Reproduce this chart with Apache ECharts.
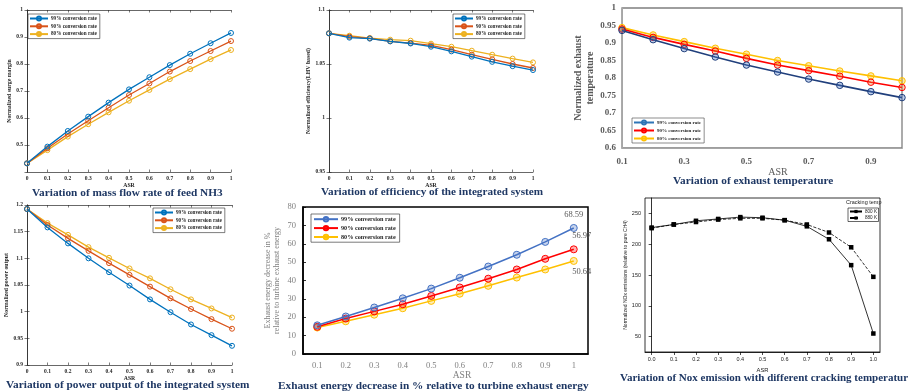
<!DOCTYPE html>
<html>
<head>
<meta charset="utf-8">
<script src="https://cdn.jsdelivr.net/npm/echarts/dist/echarts.min.js"></script>
<style>
  html, body { margin: 0; padding: 0; background: #fff; }
  #main { width: 908px; height: 391px; }
</style>
</head>
<body>
<div id="main"></div>
<script>
// ASR values
const asrFull = [0, 0.1, 0.2, 0.3, 0.4, 0.5, 0.6, 0.7, 0.8, 0.9, 1];
const asrFrom01 = ['0.1', '0.2', '0.3', '0.4', '0.5', '0.6', '0.7', '0.8', '0.9', '1'];
const rateNames = ['99% conversion rate', '90% conversion rate', '80% conversion rate'];

// mass flow rate of feed NH3 (normalized surge margin)
const surge99 = [0.432, 0.494, 0.552, 0.605, 0.657, 0.706, 0.751, 0.796, 0.838, 0.877, 0.915];
const surge90 = [0.432, 0.488, 0.541, 0.590, 0.638, 0.685, 0.728, 0.772, 0.811, 0.848, 0.885];
const surge80 = [0.432, 0.481, 0.531, 0.577, 0.621, 0.664, 0.704, 0.744, 0.781, 0.818, 0.852];

// efficiency of the integrated system
const eff99 = [1.0784, 1.0744, 1.0735, 1.0710, 1.0690, 1.0660, 1.0617, 1.0568, 1.0520, 1.0480, 1.0444];
const eff90 = [1.0784, 1.0753, 1.0738, 1.0710, 1.0694, 1.0673, 1.0633, 1.0586, 1.0543, 1.0500, 1.0463];
const eff80 = [1.0784, 1.0762, 1.0740, 1.0725, 1.0716, 1.0688, 1.0660, 1.0623, 1.0586, 1.0550, 1.0515];

// power output
const power99 = [1.1925, 1.158, 1.128, 1.100, 1.074, 1.049, 1.023, 0.999, 0.976, 0.956, 0.936];
const power90 = [1.1925, 1.1625, 1.1375, 1.114, 1.091, 1.069, 1.047, 1.025, 1.005, 0.986, 0.968];
const power80 = [1.1925, 1.166, 1.144, 1.121, 1.101, 1.081, 1.0625, 1.042, 1.023, 1.006, 0.989];

// exhaust temperature (ASR 0.1 .. 1)
const exhTemp99 = [0.936, 0.9095, 0.884, 0.860, 0.837, 0.817, 0.797, 0.779, 0.761, 0.744];
const exhTemp90 = [0.940, 0.916, 0.896, 0.877, 0.856, 0.837, 0.821, 0.805, 0.788, 0.773];
const exhTemp80 = [0.944, 0.923, 0.904, 0.885, 0.868, 0.850, 0.835, 0.820, 0.806, 0.792];

// exhaust energy decrease in % (ASR 0.1 .. 1)
const exhEnergy99 = [15.6, 20.4, 25.3, 30.3, 35.6, 41.5, 47.6, 54.0, 61.0, 68.59];
const exhEnergy90 = [14.8, 19.3, 23.2, 27.1, 31.6, 36.2, 41.0, 46.0, 51.8, 56.97];
const exhEnergy80 = [14.4, 17.8, 21.4, 24.9, 28.9, 32.8, 37.1, 41.6, 46.0, 50.64];

// NOx emission vs cracking temperature
const nox800 = [227, 232, 238, 241, 244, 243, 239, 229, 208, 166, 55];
const nox880 = [226, 232, 236, 240, 242, 242, 239, 232, 219, 195, 147];

const SERIF = '"Liberation Serif", "Times New Roman", serif';
const SANS = '"Liberation Sans", Arial, sans-serif';
const NAVY = '#1f3864';
const INK = '#262626';
const MATLAB = ['#0072BD', '#D95319', '#EDB120'];

const grid = [], xAxis = [], yAxis = [], series = [], legend = [], title = [];

function fmt(v) { return String(+v.toFixed(2)); }

// MATLAB style panel: boxed axes, ticks inside on all four sides
function matlabPanel(p) {
  const g = grid.length;
  grid.push({ left: p.left, top: p.top, width: p.width, height: p.height });
  const tick = { show: true, inside: true, length: 2.5, lineStyle: { color: INK, width: 0.6 } };
  const line = { show: true, lineStyle: { color: INK, width: 0.7 } };
  const lab = { fontFamily: SERIF, fontWeight: 'bold', fontSize: 5.5, color: INK, margin: 4, formatter: fmt };
  const nameStyle = { fontFamily: SERIF, fontWeight: 'bold', fontSize: 5.8, color: INK };
  const xb = xAxis.length;
  xAxis.push({
    gridIndex: g, type: 'value', min: 0, max: 1, interval: 0.1,
    axisLine: line, axisTick: tick, axisLabel: lab, splitLine: { show: false },
    name: 'ASR', nameLocation: 'middle', nameGap: p.xNameGap, nameTextStyle: nameStyle
  });
  xAxis.push({
    gridIndex: g, type: 'value', position: 'top', min: 0, max: 1, interval: 0.1,
    axisLine: line, axisTick: tick, axisLabel: { show: false }, splitLine: { show: false }
  });
  const yb = yAxis.length;
  yAxis.push({
    gridIndex: g, type: 'value', min: p.yMin, max: p.yMax, interval: p.yStep,
    axisLine: line, axisTick: tick, axisLabel: Object.assign({ showMinLabel: p.showMin }, lab),
    splitLine: { show: false },
    name: p.yName, nameLocation: 'middle', nameRotate: 90, nameGap: p.yNameGap, nameTextStyle: nameStyle
  });
  yAxis.push({
    gridIndex: g, type: 'value', position: 'right', min: p.yMin, max: p.yMax, interval: p.yStep,
    axisLine: line, axisTick: tick, axisLabel: { show: false }, splitLine: { show: false }
  });
  p.lines.forEach((d, i) => {
    series.push({
      type: 'line', name: rateNames[i] + '#' + g, xAxisIndex: xb, yAxisIndex: yb,
      data: asrFull.map((x, k) => [x, d[k]]),
      symbol: 'circle', symbolSize: 5, z: 3 - i,
      lineStyle: { color: MATLAB[i], width: 1.3 },
      itemStyle: { color: 'rgba(255,255,255,0)', borderColor: MATLAB[i], borderWidth: 1 }
    });
  });
  legend.push(Object.assign({
    orient: 'vertical', data: rateNames.map(n => n + '#' + g),
    formatter: n => n.split('#')[0],
    backgroundColor: '#fff', borderColor: INK, borderWidth: 0.6,
    padding: [1.5, 3, 1.5, 1], itemGap: 1.8, itemWidth: 18, itemHeight: 5,
    textStyle: { fontFamily: SERIF, fontWeight: 'bold', fontSize: 5.2, color: INK, padding: [0, 0, 0, -2] }
  }, p.legendPos));
}

matlabPanel({
  left: 27, top: 10, width: 204, height: 162,
  yMin: 0.4, yMax: 1, yStep: 0.1, showMin: false,
  yName: 'Normalized surge margin', yNameGap: 14, xNameGap: 11,
  lines: [surge99, surge90, surge80], legendPos: { left: 28, top: 14 }
});
matlabPanel({
  left: 329, top: 10, width: 204, height: 162,
  yMin: 0.95, yMax: 1.1, yStep: 0.05, showMin: true,
  yName: 'Normalized efficiency(LHV based)', yNameGap: 16, xNameGap: 11,
  lines: [eff99, eff90, eff80], legendPos: { left: 453, top: 14 }
});
matlabPanel({
  left: 27, top: 205, width: 205, height: 160,
  yMin: 0.9, yMax: 1.2, yStep: 0.05, showMin: true,
  yName: 'Normalized power output', yNameGap: 16, xNameGap: 11,
  lines: [power99, power90, power80], legendPos: { left: 153, top: 208 }
});

// Excel style panel: exhaust temperature
(function () {
  const g = grid.length;
  grid.push({ left: 622, top: 8, width: 280, height: 140, show: true, borderColor: '#7f7f7f', borderWidth: 1.3 });
  const gray = '#595959';
  const xb = xAxis.length;
  xAxis.push({
    gridIndex: g, type: 'category', data: asrFrom01, boundaryGap: false,
    axisLine: { lineStyle: { color: '#a6a6a6', width: 1 } }, axisTick: { show: false },
    axisLabel: { interval: 1, fontFamily: SERIF, fontWeight: 'bold', fontSize: 9, color: gray, margin: 9 },
    name: 'ASR', nameLocation: 'middle', nameGap: 14,
    nameTextStyle: { fontFamily: SERIF, fontSize: 10, color: gray, padding: [0, 0, 0, 32] }
  });
  const yb = yAxis.length;
  yAxis.push({
    gridIndex: g, type: 'value', min: 0.6, max: 1, interval: 0.05,
    axisLine: { show: true, lineStyle: { color: '#a6a6a6', width: 1 } }, axisTick: { show: false },
    splitLine: { show: false },
    axisLabel: { fontFamily: SERIF, fontWeight: 'bold', fontSize: 9, color: gray, margin: 6, formatter: fmt },
    name: 'Normalized exhaust\ntemperature', nameLocation: 'middle', nameRotate: 90, nameGap: 22,
    nameTextStyle: { fontFamily: SERIF, fontWeight: 'bold', fontSize: 10, color: gray, lineHeight: 12 }
  });
  const lineCol = ['#203f7c', '#ff0000', '#ffc000'];
  const legCol = ['#2e75b6', '#ff0000', '#ffc000'];
  const mk = ['rgba(68,114,196,0.35)', 'rgba(237,125,49,0.35)', 'rgba(255,192,0,0.35)'];
  [exhTemp99, exhTemp90, exhTemp80].forEach((d, i) => {
    series.push({
      type: 'line', name: rateNames[i] + '#' + g, xAxisIndex: xb, yAxisIndex: yb, data: d,
      symbol: 'circle', symbolSize: 6.5, z: 3 - i,
      lineStyle: { color: lineCol[i], width: 1.6 },
      itemStyle: { color: mk[i], borderColor: lineCol[i], borderWidth: 1 }
    });
  });
  legend.push({
    left: 632, top: 118, orient: 'vertical',
    data: rateNames.map((n, i) => ({
      name: n + '#' + g,
      lineStyle: { color: legCol[i] },
      itemStyle: { color: 'rgba(255,255,255,0)', borderColor: legCol[i] }
    })),
    formatter: n => n.split('#')[0],
    backgroundColor: '#fff', borderColor: '#404040', borderWidth: 0.6,
    padding: [1.5, 3, 1.5, 1], itemGap: 2, itemWidth: 20, itemHeight: 5,
    textStyle: { fontFamily: SERIF, fontWeight: 'bold', fontSize: 5, color: INK, padding: [0, 0, 0, -2] }
  });
})();

// Excel style panel: exhaust energy decrease
(function () {
  const g = grid.length;
  grid.push({ left: 303, top: 207, width: 285, height: 147, show: true, borderColor: '#000', borderWidth: 1.5 });
  const gray = '#7f7f7f';
  const xb = xAxis.length;
  xAxis.push({
    gridIndex: g, type: 'category', data: asrFrom01, boundaryGap: true,
    axisLine: { lineStyle: { color: '#000', width: 1.5 } }, axisTick: { show: false },
    axisLabel: { interval: 0, fontFamily: SERIF, fontSize: 8.5, color: gray, margin: 7 },
    name: 'ASR', nameLocation: 'middle', nameGap: -8,
    nameTextStyle: { fontFamily: SERIF, fontSize: 9.5, color: gray, padding: [0, 0, 0, 33] }
  });
  const yb = yAxis.length;
  yAxis.push({
    gridIndex: g, type: 'value', min: 0, max: 80, interval: 10,
    axisLine: { show: true, lineStyle: { color: '#000', width: 1.5 } },
    axisTick: { show: true, inside: true, length: 3, lineStyle: { color: '#000', width: 0.8 } },
    splitLine: { show: false },
    axisLabel: { fontFamily: SERIF, fontSize: 8.5, color: gray, margin: 7 },
    name: 'Exhaust energy decrease in %\nrelative to turbine exhaust energy',
    nameLocation: 'middle', nameRotate: 90, nameGap: 22,
    nameTextStyle: { fontFamily: SERIF, fontSize: 8, color: gray, lineHeight: 9 }
  });
  const cols = ['#4472c4', '#ff0000', '#ffc000'];
  const fills = ['rgba(68,114,196,0.3)', 'rgba(255,0,0,0.3)', 'rgba(255,192,0,0.3)'];
  const endLabel = [
    { position: 'top', distance: 5, offset: [0, 0] },
    { position: 'top', distance: 5, offset: [8, 0] },
    { position: 'bottom', distance: 2, offset: [8, 0] }
  ];
  [exhEnergy99, exhEnergy90, exhEnergy80].forEach((d, i) => {
    series.push({
      type: 'line', name: rateNames[i] + '#' + g, xAxisIndex: xb, yAxisIndex: yb,
      data: d.map((v, k) => k === d.length - 1
        ? { value: v, label: Object.assign({ show: true, fontFamily: SERIF, fontSize: 8.5, color: '#595959' }, endLabel[i]) }
        : v),
      symbol: 'circle', symbolSize: 7, z: 3 - i,
      lineStyle: { color: cols[i], width: 1.5 },
      itemStyle: { color: fills[i], borderColor: cols[i], borderWidth: 1 }
    });
  });
  legend.push({
    left: 311, top: 214, orient: 'vertical',
    data: rateNames.map(n => n + '#' + g),
    formatter: n => n.split('#')[0],
    backgroundColor: '#fff', borderColor: '#404040', borderWidth: 0.7,
    padding: [2, 4, 2, 2], itemGap: 2.5, itemWidth: 24, itemHeight: 5.5,
    textStyle: { fontFamily: SERIF, fontWeight: 'bold', fontSize: 6.2, color: INK, padding: [0, 0, 0, -2] }
  });
})();

// Origin style panel: NOx emission
(function () {
  const g = grid.length;
  grid.push({ left: 645, top: 198, width: 235, height: 154, show: true, borderColor: '#000', borderWidth: 0.8 });
  const lab = { fontFamily: SANS, fontSize: 5.5, color: '#222', margin: 4, showMinLabel: false, showMaxLabel: false };
  const tick = { show: true, inside: false, length: 3, lineStyle: { color: '#000', width: 0.7 } };
  const xb = xAxis.length;
  xAxis.push({
    gridIndex: g, type: 'value', min: -0.03, max: 1.03, splitNumber: 10,
    axisLine: { lineStyle: { color: '#000', width: 0.8 } }, axisTick: tick,
    axisLabel: Object.assign({ formatter: v => v.toFixed(1) }, lab), splitLine: { show: false },
    name: 'ASR', nameLocation: 'middle', nameGap: 15,
    nameTextStyle: { fontFamily: SANS, fontSize: 5.8, color: '#222' }
  });
  const yb = yAxis.length;
  yAxis.push({
    gridIndex: g, type: 'value', min: 25, max: 275, splitNumber: 5,
    axisLine: { show: true, lineStyle: { color: '#000', width: 0.8 } }, axisTick: tick,
    axisLabel: lab, splitLine: { show: false },
    name: 'Normalized NOx emissions (relative to pure CH4)', nameLocation: 'middle', nameRotate: 90, nameGap: 11,
    nameTextStyle: { fontFamily: SANS, fontSize: 5, color: '#222' }
  });
  [['800 K', nox800, 'solid'], ['880 K', nox880, 'dashed']].forEach(([name, d, type]) => {
    series.push({
      type: 'line', name, xAxisIndex: xb, yAxisIndex: yb,
      data: asrFull.map((x, k) => [x, d[k]]),
      symbol: 'rect', symbolSize: 4.5,
      lineStyle: { color: '#000', width: 0.8, type },
      itemStyle: { color: '#000' }
    });
  });
  legend.push({
    left: 848, top: 208, orient: 'vertical', data: ['800 K', '880 K'],
    backgroundColor: '#fff', borderColor: '#000', borderWidth: 0.6,
    padding: [1, 1.5, 1, 1], itemGap: 1.5, itemWidth: 12, itemHeight: 4,
    textStyle: { fontFamily: SANS, fontSize: 4.6, color: '#222', padding: [0, 0, 0, -2] }
  });
  title.push({
    text: 'Cracking temp', left: 846, top: 199, padding: 0,
    textStyle: { fontFamily: SANS, fontSize: 5.5, fontWeight: 'normal', color: '#222' }
  });
})();

// panel captions
[
  ['Variation of mass flow rate of feed NH3', 32, 188, 11.3],
  ['Variation of efficiency of the integrated system', 321, 187, 11.2],
  ['Variation of exhaust temperature', 673, 176, 11.3],
  ['Variation of power output of the integrated system', 6, 380, 11.3],
  ['Exhaust energy decrease in % relative to turbine exhaust energy', 278, 381, 11.3],
  ['Variation of Nox emission with different cracking temperature', 620, 373, 11]
].forEach(([text, left, top, size]) => {
  title.push({
    text, left, top, padding: 0,
    textStyle: { fontFamily: SERIF, fontWeight: 'bold', fontSize: size, color: NAVY }
  });
});

const chart = echarts.init(document.getElementById('main'), null, { renderer: 'canvas' });
chart.setOption({
  animation: false,
  backgroundColor: '#fff',
  title, grid, xAxis, yAxis, series, legend
});
</script>
</body>
</html>
